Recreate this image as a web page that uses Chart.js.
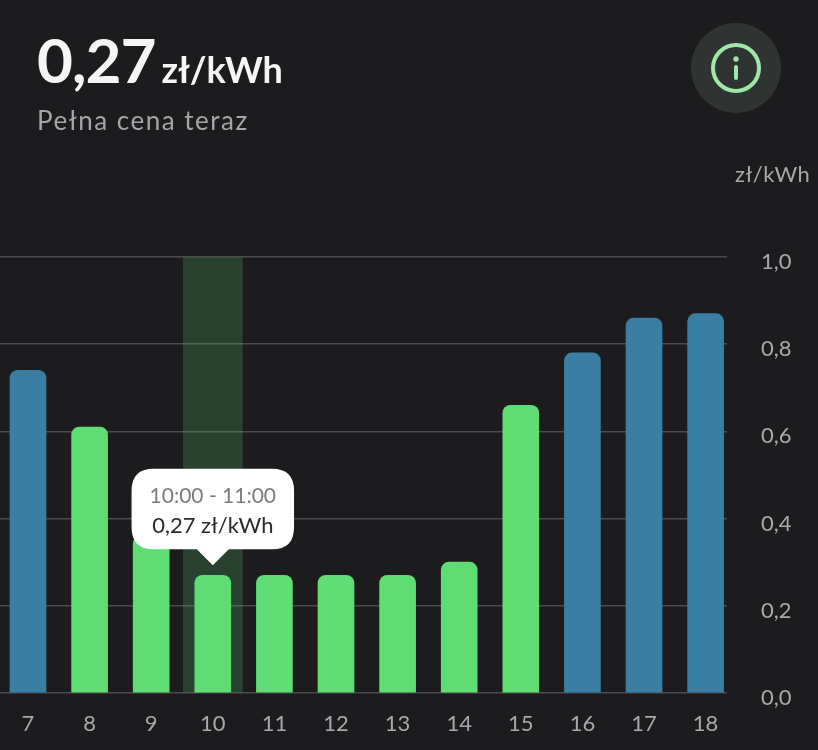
<!DOCTYPE html>
<html>
<head>
<meta charset="utf-8">
<title>Pełna cena teraz</title>
<script src="https://cdn.jsdelivr.net/npm/chart.js@4"></script>
<style>
    html, body { margin: 0; padding: 0; background: #1c1c1e; overflow: hidden; }
    body { width: 818px; height: 750px; position: relative; font-family: Lato, sans-serif; }
    #priceChart { position: absolute; left: 0; top: 0; }
    .price { position: absolute; left: 37px; top: 22px; color: #f5f5f5; font-weight: 700; font-size: 62px; line-height: 74px; letter-spacing: -1px; white-space: nowrap; }
    .price span { font-size: 36px; letter-spacing: 0; margin-left: 6px; }
    .caption { position: absolute; left: 37px; top: 104px; color: #a5a5a7; font-size: 26px; line-height: 32px; letter-spacing: 1.5px; }
    .unit { position: absolute; left: 735px; top: 160px; color: #a9a9ab; font-size: 22px; line-height: 28px; letter-spacing: 0.5px; }
    .info { position: absolute; left: 691px; top: 23px; }
</style>
</head>
<body>
<canvas id="priceChart" width="818" height="750"></canvas>
<div class="price">0,27<span>zł/kWh</span></div>
<div class="caption">Pełna cena teraz</div>
<div class="unit">zł/kWh</div>
<svg class="info" width="90" height="91" viewBox="0 0 90 91">
    <circle cx="45" cy="45" r="45" fill="#2f3331"/>
    <circle cx="45" cy="45" r="23" fill="none" stroke="#9de8a8" stroke-width="4"/>
    <circle cx="45" cy="36" r="2.7" fill="#9de8a8"/>
    <line x1="45" y1="44" x2="45" y2="55" stroke="#9de8a8" stroke-width="4" stroke-linecap="round"/>
</svg>

<script>
const hours = [7, 8, 9, 10, 11, 12, 13, 14, 15, 16, 17, 18];
const prices = [0.74, 0.61, 0.36, 0.27, 0.27, 0.27, 0.27, 0.30, 0.66, 0.78, 0.86, 0.87];
const barColors = ['#3a7ea3', '#5fdc73', '#5fdc73', '#5fdc73', '#5fdc73', '#5fdc73', '#5fdc73', '#5fdc73', '#5fdc73', '#3a7ea3', '#3a7ea3', '#3a7ea3'];
const selectedHour = 10;
const selectedRange = '10:00 - 11:00';
const selectedBand = [1];

const formatPrice = (value, digits) => value.toFixed(digits).replace('.', ',');

// keep the tooltip pinned above the selected bar
Chart.Tooltip.positioners.aboveBar = function (items) {
    if (!items.length) return false;
    return { x: items[0].element.x, y: items[0].element.y - 10 };
};

const chart = new Chart(document.getElementById('priceChart').getContext('2d'), {
    type: 'bar',
    data: {
        datasets: [
            {
                data: hours.map((h, i) => ({ x: h, y: prices[i] })),
                backgroundColor: barColors,
                barThickness: 36,
                borderRadius: { topLeft: 8, topRight: 8 },
                borderSkipped: 'bottom',
                grouped: false,
                order: 1
            },
            {
                // highlight behind the selected hour, grid lines stay visible through it
                data: selectedBand.map(v => ({ x: selectedHour, y: v })),
                backgroundColor: 'rgba(95, 220, 115, 0.2)',
                barThickness: 59,
                grouped: false,
                order: 2
            }
        ]
    },
    options: {
        responsive: false,
        animation: false,
        layout: { padding: { top: 257 } },
        plugins: {
            legend: { display: false },
            tooltip: {
                enabled: true,
                position: 'aboveBar',
                yAlign: 'bottom',
                xAlign: 'center',
                displayColors: false,
                filter: item => item.datasetIndex === 0,
                backgroundColor: '#ffffff',
                titleColor: '#7b7b7d',
                bodyColor: '#2a2a2c',
                titleFont: { family: 'Lato', size: 21, weight: 'normal' },
                bodyFont: { family: 'Lato', size: 22 },
                titleAlign: 'center',
                bodyAlign: 'center',
                titleMarginBottom: 4,
                padding: { top: 15, bottom: 10, left: 18, right: 18 },
                cornerRadius: 22,
                caretSize: 16,
                caretPadding: 0,
                callbacks: {
                    title: () => selectedRange,
                    label: ctx => formatPrice(ctx.parsed.y, 2) + ' zł/kWh'
                }
            }
        },
        scales: {
            x: {
                type: 'linear',
                offset: false,
                min: 6.5455,
                max: 18.347,
                grid: { display: false },
                border: { display: false },
                ticks: {
                    autoSkip: false,
                    maxRotation: 0,
                    color: '#a9a9ab',
                    padding: 10,
                    font: { family: 'Lato', size: 22 },
                    callback: value => String(value)
                },
                // one label per hour, the fractional bounds get none
                afterBuildTicks: scale => {
                    scale.ticks = hours.map(h => ({ value: h }));
                },
                afterFit: scale => { scale.height = 57; }
            },
            y: {
                position: 'right',
                min: 0,
                max: 1,
                grid: { color: '#4b4b4d', lineWidth: 1.5, drawTicks: false },
                border: { display: false },
                ticks: {
                    stepSize: 0.2,
                    color: '#a9a9ab',
                    padding: 34,
                    labelOffset: 5,
                    font: { family: 'Lato', size: 22 },
                    callback: value => formatPrice(value, 1)
                },
                afterFit: scale => { scale.width = 91; }
            }
        }
    }
});

chart.tooltip.setActiveElements([{ datasetIndex: 0, index: hours.indexOf(selectedHour) }], { x: 0, y: 0 });
chart.update();
</script>
</body>
</html>
